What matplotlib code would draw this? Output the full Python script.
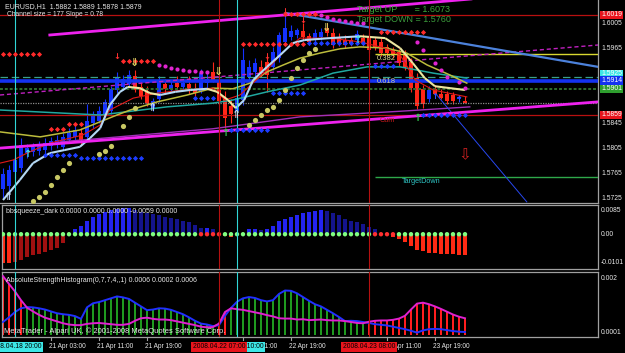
"""
MetaTrader-style EURUSD H1 screen: candles with channel / MA overlays,
bbsqueeze_dark sub-window and AbsoluteStrengthHistogram sub-window.
Writes out.png (625x353).
"""

import numpy as np
import matplotlib
matplotlib.use("Agg")
import matplotlib.pyplot as plt
from matplotlib.collections import LineCollection
from matplotlib.transforms import blended_transform_factory as _blend

plt.rcParams["font.family"] = ["Liberation Sans", "DejaVu Sans"]

FIG_W, FIG_H = 625, 353

# ── price bars (index 0 = first bar on screen, H1) ──────────────────────────
bar_open = [1.5740, 1.5745, 1.5768, 1.5775, 1.5798, 1.5800, 1.5801, 1.5803, 1.5809, 1.5812,
            1.5808, 1.5819, 1.5824, 1.5830, 1.5824, 1.5846, 1.5850, 1.5861, 1.5866, 1.5899,
            1.5904, 1.5909, 1.5921, 1.5904, 1.5896, 1.5871, 1.5885, 1.5909, 1.5901, 1.5910,
            1.5904, 1.5909, 1.5901, 1.5898, 1.5910, 1.5928, 1.5914, 1.5887, 1.5874, 1.5866,
            1.5883, 1.5920, 1.5928, 1.5936, 1.5944, 1.5936, 1.5950, 1.5976, 1.5984, 1.5987,
            1.5993, 1.5985, 1.5979, 1.5984, 1.5998, 1.5990, 1.5982, 1.5979, 1.5979, 1.5979,
            1.5982, 1.5984, 1.5979, 1.5976, 1.5968, 1.5963, 1.5960, 1.5957, 1.5944, 1.5918,
            1.5901, 1.5885, 1.5901, 1.5893, 1.5893, 1.5891, 1.5884, 1.5882]
bar_high = [1.5775, 1.5779, 1.5795, 1.5822, 1.5812, 1.5814, 1.5818, 1.5822, 1.5824, 1.5827,
            1.5830, 1.5838, 1.5843, 1.5838, 1.5877, 1.5866, 1.5874, 1.5885, 1.5906, 1.5928,
            1.5923, 1.5931, 1.5931, 1.5914, 1.5906, 1.5887, 1.5922, 1.5917, 1.5914, 1.5922,
            1.5917, 1.5922, 1.5910, 1.5933, 1.5926, 1.5944, 1.5922, 1.5898, 1.5885, 1.5895,
            1.5966, 1.5947, 1.5950, 1.5947, 1.5955, 1.5968, 1.5992, 1.6019, 1.6003, 1.5999,
            1.6006, 1.5990, 1.5997, 1.5998, 1.6006, 1.5998, 1.5990, 1.5987, 1.5985, 1.5995,
            1.5989, 1.5990, 1.5984, 1.5982, 1.5973, 1.5968, 1.5965, 1.5963, 1.5950, 1.5926,
            1.5907, 1.5906, 1.5907, 1.5901, 1.5898, 1.5896, 1.5891, 1.5889]
bar_low = [1.5724, 1.5724, 1.5759, 1.5768, 1.5790, 1.5794, 1.5795, 1.5798, 1.5803, 1.5806,
           1.5803, 1.5814, 1.5819, 1.5811, 1.5819, 1.5839, 1.5846, 1.5855, 1.5861, 1.5894,
           1.5899, 1.5904, 1.5896, 1.5885, 1.5874, 1.5866, 1.5880, 1.5895, 1.5898, 1.5901,
           1.5901, 1.5893, 1.5890, 1.5895, 1.5903, 1.5912, 1.5877, 1.5839, 1.5847, 1.5850,
           1.5875, 1.5915, 1.5920, 1.5920, 1.5896, 1.5931, 1.5944, 1.5971, 1.5979, 1.5982,
           1.5979, 1.5971, 1.5974, 1.5979, 1.5985, 1.5966, 1.5969, 1.5966, 1.5969, 1.5976,
           1.5969, 1.5958, 1.5963, 1.5953, 1.5953, 1.5950, 1.5937, 1.5931, 1.5896, 1.5869,
           1.5871, 1.5880, 1.5890, 1.5884, 1.5877, 1.5877, 1.5880, 1.5878]
bar_close = [1.5764, 1.5771, 1.5787, 1.5811, 1.5806, 1.5808, 1.5809, 1.5814, 1.5818, 1.5819,
             1.5824, 1.5831, 1.5835, 1.5819, 1.5850, 1.5858, 1.5866, 1.5879, 1.5901, 1.5920,
             1.5917, 1.5923, 1.5899, 1.5890, 1.5879, 1.5882, 1.5914, 1.5901, 1.5907, 1.5904,
             1.5910, 1.5898, 1.5895, 1.5926, 1.5917, 1.5915, 1.5882, 1.5854, 1.5861, 1.5887,
             1.5947, 1.5936, 1.5942, 1.5926, 1.5923, 1.5960, 1.5987, 1.5998, 1.5993, 1.5995,
             1.5984, 1.5976, 1.5990, 1.5992, 1.5990, 1.5971, 1.5974, 1.5971, 1.5973, 1.5989,
             1.5974, 1.5963, 1.5968, 1.5958, 1.5958, 1.5955, 1.5942, 1.5936, 1.5902, 1.5874,
             1.5877, 1.5899, 1.5893, 1.5887, 1.5882, 1.5882, 1.5888, 1.5879]

# ── moving averages (bar position, price) ───────────────────────────────────
fast_ma_x = [0.0, 2.8, 5.0, 7.8, 10.3, 12.8, 14.5, 16.2, 17.8, 19.5, 20.8, 22.8, 24.5, 26.2,
             28.7, 31.2, 34.0, 35.7, 37.5, 38.8, 40.2, 41.7, 44.0, 46.2, 48.3, 50.3, 54.5,
             59.5, 63.7, 66.2, 68.3, 70.3, 72.0, 74.5, 77.0]
fast_ma_y = [1.5723, 1.5755, 1.5782, 1.5798, 1.5803, 1.5808, 1.5822, 1.5838, 1.5875, 1.5896,
             1.5904, 1.5902, 1.5894, 1.5891, 1.5896, 1.5899, 1.5901, 1.5896, 1.5883, 1.5870,
             1.5883, 1.5915, 1.5936, 1.5955, 1.5974, 1.5979, 1.5982, 1.5985, 1.5982, 1.5966,
             1.5942, 1.5918, 1.5905, 1.5902, 1.5899]
slow_ma_x = [-0.5, 6.2, 12.8, 19.0, 21.2, 25.7, 30.7, 35.0, 38.3, 41.2, 44.0, 46.7, 49.5,
             52.8, 56.2, 59.5, 64.0, 67.3, 70.7, 74.5, 77.3]
slow_ma_y = [1.5832, 1.5824, 1.5835, 1.5859, 1.5867, 1.5880, 1.5891, 1.5902, 1.5901, 1.5910,
             1.5928, 1.5939, 1.5950, 1.5958, 1.5965, 1.5968, 1.5966, 1.5958, 1.5939, 1.5923,
             1.5910]
teal_ma_x = [-0.5, 16.2, 27.3, 35.0, 38.3, 44.0, 49.5, 55.0, 60.7, 66.2, 71.7, 77.3]
teal_ma_y = [1.5867, 1.5859, 1.5872, 1.5878, 1.5883, 1.5896, 1.5907, 1.5926, 1.5936, 1.5936,
             1.5926, 1.5918]
red_ma_x = [-0.5, 1.7, 4.0, 7.8, 13.3, 16.2, 17.8, 21.7, 25.7, 30.0, 35.0, 37.0, 39.5, 44.0,
            46.7, 49.5, 54.5, 59.5, 63.7, 66.2, 68.7, 71.7, 77.3]
red_ma_y = [1.5782, 1.5787, 1.5798, 1.5814, 1.5827, 1.5843, 1.5867, 1.5886, 1.5894, 1.5899,
            1.5902, 1.5883, 1.5891, 1.5931, 1.5960, 1.5982, 1.5982, 1.5976, 1.5966, 1.5955,
            1.5915, 1.5899, 1.5888]
purple_x = [9.5, 35.0, 49.5, 66.2, 77.8]
purple_y = [1.5816, 1.5837, 1.5856, 1.5865, 1.5872]

# ── trend lines (two anchors each) ──────────────────────────────────────────
chan_top_x, chan_top_y = [7.8, 99.2], [1.5987, 1.6062]
chan_bot_x, chan_bot_y = [-0.5, 99.2], [1.5806, 1.5880]
mag_dash_x, mag_dash_y = [-0.5, 99.2], [1.5891, 1.5971]
blue_tl_x, blue_tl_y = [47.3, 99.2], [1.6022, 1.5936]
thin_tl_x, thin_tl_y = [72.3, 87.3], [1.5891, 1.5720]

# ── horizontal levels ────────────────────────────────────────────────────────
level_high = 1.6019
level_low = 1.5859
level_blue = 1.5914
level_dash = 1.5920
level_green = 1.5901
level_bid = 1.5879
fib_382 = 1.5957
fib_start = 62
target_down = 1.5760

# ── dot markers (bar, price) ─────────────────────────────────────────────────
red_dot_bar = [0, 1, 2, 3, 4, 5, 6, 8, 9, 10, 11, 12, 13, 20, 21, 22, 23, 24, 25,
               40, 41, 42, 43, 44, 45, 46, 47, 48, 49, 50, 47, 48, 49, 50, 51, 52,
               63, 64, 65, 66, 67, 68, 69, 70]
red_dot_price = [1.5957] * 7 + [1.5837] * 3 + [1.5845] * 3 + [1.5945] * 6 + \
                [1.5973] * 11 + [1.6021] * 6 + [1.5992] * 8
mag_dot_bar = [26, 27, 28, 29, 30, 31, 32, 33, 34, 53, 54, 55, 56, 57, 58, 59, 60,
               69, 70, 72, 73, 74, 76, 77]
mag_dot_price = [1.5939, 1.5937, 1.5934, 1.5933, 1.5931, 1.5929, 1.5929, 1.5928, 1.5928,
                 1.6019, 1.6016, 1.6013, 1.6011, 1.6009, 1.6008, 1.6006, 1.6006,
                 1.5976, 1.5963, 1.5942, 1.5931, 1.5920, 1.5912, 1.5902]
blue_dot_bar = [7, 8, 9, 10, 11, 12, 13, 14, 15, 16, 17, 18, 19, 20, 21, 22, 23,
                32, 33, 34, 35, 38, 39, 40, 41, 42, 43, 44, 45, 46, 47, 48, 49, 50,
                51, 52, 53, 54, 55, 56, 57, 58, 59, 60, 62, 63, 64, 65,
                70, 71, 72, 73, 74, 75, 76, 77]
blue_dot_price = [1.5795] * 6 + [1.5790] * 11 + [1.5886] * 4 + [1.5835] * 7 + \
                 [1.5894] * 6 + [1.5974] * 10 + [1.5937] * 4 + [1.5859] * 8
sar_bar = [5, 6, 7, 8, 9, 10, 11, 16, 17, 18, 20, 21, 22,
           41, 42, 43, 44, 45, 46, 47, 48, 49, 50, 51, 52]
sar_price = [1.5721, 1.5728, 1.5736, 1.5747, 1.5760, 1.5771, 1.5782, 1.5797, 1.5801, 1.5809,
             1.5841, 1.5856, 1.5870, 1.5843, 1.5851, 1.5859, 1.5867, 1.5872, 1.5883, 1.5899,
             1.5918, 1.5934, 1.5947, 1.5958, 1.5965]

# ── signal arrows (bar, price) ───────────────────────────────────────────────
cyan_up_bar, cyan_up_price = [4, 59], [1.5797, 1.5979]
pale_up_bar, pale_up_price = [1, 25, 39], [1.5727, 1.5870, 1.5859]
green_up_bar, green_up_price = [37, 69], [1.5830, 1.5854]
yellow_dn_bar, yellow_dn_price = [22, 36, 54], [1.5942, 1.5928, 1.5998]
red_dn_bar, red_dn_price = [19, 44, 47, 50], [1.5952, 1.5952, 1.6024, 1.6010]
blue_up_bar, blue_up_price = [72, 76], [1.5888, 1.5883]
target_arrow_bar, target_arrow_price = 77, 1.5795

# ── bbsqueeze_dark (x1e-4) ───────────────────────────────────────────────────
squeeze_val = [-101, -101, -98, -90, -80, -74, -68, -61, -55, -47, -30, 0, 17, 28, 48, 62,
               70, 79, 85, 88, 91, 91, 85, 79, 74, 70, 67, 62, 58, 54, 48, 43, 34, 23, 23,
               17, 0, -5, -8, 0, 3, 17, 17, 15, 17, 28, 48, 54, 62, 68, 74, 77, 82, 85, 82,
               74, 68, 54, 48, 43, 36, 26, 20, -2, -3, -11, -18, -27, -41, -54, -60, -65,
               -67, -68, -68, -71, -73, -73]
squeeze_on_bars = [33, 34, 35, 36, 62, 63, 64, 65]

# ── AbsoluteStrengthHistogram (x1e-4) ────────────────────────────────────────
as_bulls = [4.58, 6.25, 8.16, 9.50, 9.94, 9.83, 9.50, 9.05, 8.38, 7.71,
            7.37, 7.15, 6.70, 5.70, 9.83, 11.29, 11.73, 12.40, 13.07, 13.75,
            13.41, 12.85, 11.51, 10.17, 8.83, 9.05, 9.50, 9.39, 8.94, 8.16,
            7.37, 6.25, 5.02, 4.02, 3.68, 3.12, 3.46, 6.81, 9.61, 11.84,
            13.07, 13.52, 13.19, 12.40, 11.96, 12.40, 14.64, 15.87, 15.76, 14.86,
            13.52, 12.18, 10.95, 10.17, 8.94, 7.71, 6.37, 4.91, 5.02, 4.91,
            4.58, 4.24, 3.80, 3.57, 3.35, 2.90, 2.45, 2.01, 1.45, 0.78,
            1.56, 2.01, 2.12, 2.01, 1.67, 1.34, 1.11, 1.00]
as_bears = [21.01, 18.22, 15.53, 12.40, 9.72, 8.38, 7.15, 6.14, 5.47, 4.80,
            4.13, 3.68, 3.46, 3.46, 3.91, 4.13, 4.24, 4.02, 3.80, 3.57,
            3.57, 3.91, 5.02, 5.92, 6.14, 5.70, 5.47, 5.47, 5.25, 4.80,
            4.35, 3.91, 3.46, 2.90, 2.68, 2.79, 4.02, 8.16, 9.50, 9.16,
            8.94, 8.49, 8.04, 7.60, 7.04, 6.59, 5.92, 5.81, 5.81, 5.47,
            5.58, 5.25, 5.36, 5.47, 5.25, 5.14, 5.14, 4.91, 4.58, 4.24,
            4.13, 4.69, 5.02, 5.14, 5.14, 5.36, 5.81, 6.81, 9.05, 11.17,
            11.51, 10.95, 10.17, 9.27, 8.27, 7.26, 6.48, 5.92]

# ── time axis ────────────────────────────────────────────────────────────────
time_tick_bar = [8, 16, 24, 40, 48, 64, 72]
time_tick_label = ["21 Apr 03:00", "21 Apr 11:00", "21 Apr 19:00",
                   "22 Apr 11:00", "22 Apr 19:00", "23 Apr 11:00", "23 Apr 19:00"]
vline_bar = [2, 39, 36, 61]
vline_label = ["2008.04.18 20:00", "2008.04.22 10:00", "2008.04.22 07:00", "2008.04.23 08:00"]
vline_color = ["#30d6d6", "#30d6d6", "#b41010", "#b41010"]
vline_box = ["#3ce6e6", "#3ce6e6", "#e8141c", "#e8141c"]

price_ticks = [1.6005, 1.5965, 1.5845, 1.5805, 1.5765, 1.5725]
price_boxes = [1.6019, 1.5925, 1.5914, 1.5901, 1.5859]
price_box_colors = ["#e8141c", "#3ce6e6", "#1432f0", "#2e9e2e", "#e8141c"]

BULL, BEAR = "#1432ff", "#ff2618"
GRID_GRAY = "#a0a0a0"
TXT = "#e8e8e8"
FS = 5.0


# ── helpers ─────────────────────────────────────────────────────────────────

def _fx(px):
    return px / FIG_W


def _fy(py):
    return 1.0 - py / FIG_H


def _style_panel(ax, xlim, ylim, full_box=True):
    ax.set_facecolor("black")
    ax.set_xlim(*xlim)
    ax.set_ylim(*ylim)
    ax.set_xticks([])
    ax.set_yticks([])
    for side, sp in ax.spines.items():
        sp.set_color(GRID_GRAY)
        sp.set_linewidth(0.9)
        if not full_box and side in ("left", "top"):
            sp.set_visible(False)


def _right_label(ax, y, text, fc=None):
    tr = _blend(ax.transAxes, ax.transData)
    kw = dict(transform=tr, ha="left", va="center", fontsize=4.9, color=TXT, zorder=10)
    if fc is not None:
        kw["bbox"] = dict(boxstyle="square,pad=0.1", fc=fc, ec="none")
        kw["color"] = "white"
    ax.text(1.005, y, text, **kw)


def _glyphs(ax, xs, ys, glyph, color, size):
    for x, y in zip(xs, ys):
        ax.text(x, y, glyph, ha="center", va="center", color=color, fontsize=size,
                fontweight="bold", family=["DejaVu Sans"], zorder=7)


# ── figure layout ────────────────────────────────────────────────────────────
fig = plt.figure(figsize=(FIG_W / 100, FIG_H / 100), dpi=100, facecolor="black")
ax = fig.add_axes([_fx(0), _fy(203), _fx(598), 203 / FIG_H])
ax_sq = fig.add_axes([_fx(2), _fy(269), _fx(596), 64 / FIG_H])
ax_as = fig.add_axes([_fx(2), _fy(337), _fx(596), 65 / FIG_H])

xlim_main = (-0.5, 99.17)
xlim_sub = (-1 / 6, 99.17)
_style_panel(ax, xlim_main, (1.6043 - 0.00016 * 203, 1.6043), full_box=False)
_style_panel(ax_sq, xlim_sub, (-0.01221, 0.01026))
_style_panel(ax_as, xlim_sub, (-0.000079, 0.00225))

idx = np.arange(len(bar_open))
o, h, l, c = (np.asarray(v) for v in (bar_open, bar_high, bar_low, bar_close))

# ── main chart: levels and trend lines ──────────────────────────────────────
ax.axhline(level_high, color="#b81010", lw=0.9, zorder=3)
ax.axhline(level_low, color="#b81010", lw=0.9, zorder=3)
ax.axhline(level_dash, color="#3aa08a", lw=0.9, ls=(0, (6, 3)), zorder=3)
ax.axhline(level_green, color="#2f6e2f", lw=1.4, ls=(0, (1.5, 1)), zorder=3)
ax.axhline(level_bid, color="#8c8c8c", lw=0.9, ls=(0, (1, 1)), zorder=3)
ax.axhline(level_blue, color="#1432f0", lw=2.6, zorder=3)
ax.hlines(fib_382, fib_start, xlim_main[1], color="#d8d830", lw=1.0, zorder=3)
ax.hlines(target_down, fib_start, xlim_main[1], color="#2ea84a", lw=1.0, zorder=3)

ax.plot(mag_dash_x, mag_dash_y, color="#c020c0", lw=1.0, ls=(0, (3, 2)), zorder=3)
ax.plot(chan_top_x, chan_top_y, color="#ee22ee", lw=2.0, zorder=5)
ax.plot(chan_bot_x, chan_bot_y, color="#ee22ee", lw=2.0, zorder=5)
ax.plot(purple_x, purple_y, color="#a030b8", lw=1.0, zorder=4)
ax.plot(blue_tl_x, blue_tl_y, color="#4c82dc", lw=1.6, zorder=4)
ax.plot(thin_tl_x, thin_tl_y, color="#2848f0", lw=0.7, zorder=4)

for b, col in zip(vline_bar, vline_color):
    for a in (ax, ax_sq, ax_as):
        a.axvline(b, color=col, lw=0.8, zorder=6)

# ── candles ──────────────────────────────────────────────────────────────────
cols = np.where(c >= o, BULL, BEAR)
ax.vlines(idx, l, h, colors=cols, lw=0.8, zorder=2)
ax.bar(idx, np.maximum(np.abs(c - o), 0.00008), bottom=np.minimum(o, c), width=0.62,
       color=cols, lw=0, zorder=2)

# ── moving averages ──────────────────────────────────────────────────────────
ax.plot(teal_ma_x, teal_ma_y, color="#20a8a0", lw=1.1, zorder=4)
ax.plot(slow_ma_x, slow_ma_y, color="#bcbc3c", lw=1.1, zorder=4)
ax.plot(red_ma_x, red_ma_y, color="#e01818", lw=0.8, zorder=4)
pts = np.column_stack([fast_ma_x, fast_ma_y])
segs = np.stack([pts[:-1], pts[1:]], axis=1)
seg_cols = np.where(np.diff(fast_ma_y) >= 0, "#b4d8f4", "#ece6a0")
ax.add_collection(LineCollection(segs, colors=seg_cols, linewidths=1.5, zorder=4))

# ── dots ─────────────────────────────────────────────────────────────────────
ax.scatter(red_dot_bar, red_dot_price, marker="D", s=7, color="#ff2a2a", lw=0, zorder=6)
ax.scatter(mag_dot_bar, mag_dot_price, marker="o", s=9, color="#e024d0", lw=0, zorder=6)
ax.scatter(blue_dot_bar, blue_dot_price, marker="D", s=7, color="#1c3cff", lw=0, zorder=6)
ax.scatter(sar_bar, sar_price, marker="o", s=14, color="#c8c864", lw=0, zorder=6)

_glyphs(ax, cyan_up_bar, cyan_up_price, "↑", "#40e8e8", 7)
_glyphs(ax, pale_up_bar, pale_up_price, "⇑", "#c4dcf0", 8)
_glyphs(ax, green_up_bar, green_up_price, "↑", "#30d050", 7)
_glyphs(ax, yellow_dn_bar, yellow_dn_price, "⇓", "#d8d060", 8)
_glyphs(ax, red_dn_bar, red_dn_price, "↓", "#ff3030", 6)
_glyphs(ax, blue_up_bar, blue_up_price, "↑", "#3050ff", 6)
ax.text(target_arrow_bar, target_arrow_price, "⇩", ha="center", va="center",
        color="#d02020", fontsize=11, family=["DejaVu Sans"], zorder=7)

# ── main chart texts ────────────────────────────────────────────────────────
fig.text(_fx(5), _fy(7), "EURUSD,H1  1.5882 1.5889 1.5878 1.5879", color=TXT,
         fontsize=FS, va="center", ha="left")
fig.text(_fx(7), _fy(15), "Channel size = 177 Slope = 0.78", color=TXT,
         fontsize=4.8, va="center", ha="left")
fig.text(_fx(357), _fy(9), "Target UP       = 1.6073", color="#3ca83c",
         fontsize=6.5, va="center", ha="left")
fig.text(_fx(357), _fy(19), "Target DOWN = 1.5760", color="#3c9c3c",
         fontsize=6.5, va="center", ha="left")
ax.text(fib_start + 0.3, 1.5950, "0.382", color="#d8d890", fontsize=5.5, va="center", zorder=8)
ax.text(fib_start + 0.3, 1.5912, "0.618", color="#c8c8a0", fontsize=5.5, va="center", zorder=8)
ax.text(fib_start + 4.5, 1.5752, "TargetDown", color="#30c8c8", fontsize=5.2, va="center")
ax.text(fib_start + 0.8, 1.5851, "Cum", color="#c01818", fontsize=5.2, va="center", zorder=8)

for p in price_ticks:
    _right_label(ax, p, f"{p:.4f}")
for p, fc in zip(price_boxes, price_box_colors):
    _right_label(ax, p, f"{p:.4f}", fc=fc)

# ── bbsqueeze_dark ───────────────────────────────────────────────────────────
sq = np.asarray(squeeze_val) * 1e-4
prev = np.r_[sq[0], sq[:-1]]
sq_cols = []
for v, pv in zip(sq, prev):
    if v >= 0:
        sq_cols.append("#2424f0" if v >= pv else "#14148c")
    else:
        sq_cols.append("#ff2a14" if v <= pv else "#a01010")
ax_sq.bar(idx, sq, width=0.55, color=sq_cols, lw=0, zorder=2)
dot_cols = ["#ff3030" if i in squeeze_on_bars else "#80ff80" for i in idx]
ax_sq.scatter(idx, np.zeros(len(idx)), s=10, color=dot_cols, lw=0, zorder=3)
ax_sq.text(0.006, 0.0079, "bbsqueeze_dark 0.0000 0.0000 0.0000 -0.0059 0.0000",
           transform=_blend(ax_sq.transAxes, ax_sq.transData),
           color=TXT, fontsize=FS, va="center", ha="left", zorder=8)
for v, t in ((0.0085, "0.0085"), (0.0, "0.00"), (-0.0101, "-0.0101")):
    _right_label(ax_sq, v, t)

# ── AbsoluteStrengthHistogram ───────────────────────────────────────────────
bulls = np.asarray(as_bulls) * 1e-4
bears = np.asarray(as_bears) * 1e-4
hist_h = np.maximum(bulls, bears)
hist_c = np.where(bulls >= bears, "#1f9a1f", "#ff1e1e")
ax_as.bar(idx, hist_h, width=0.34, color=hist_c, lw=0, zorder=2)
ax_as.plot(idx, bulls, color="#2030ff", lw=1.4, zorder=3)
ax_as.plot(idx, bears, color="#e020d0", lw=1.4, zorder=3)
ax_as.text(0.006, 0.00195, "AbsoluteStrengthHistogram(0,7,7,4,,1) 0.0006 0.0002 0.0006",
           transform=_blend(ax_as.transAxes, ax_as.transData),
           color=TXT, fontsize=FS, va="center", ha="left", zorder=8)
fig.text(_fx(4), _fy(331), "MetaTrader - Alpari UK, © 2001-2008 MetaQuotes Software Corp.",
         color=TXT, fontsize=5.4, va="center", ha="left")
for v, t in ((0.002, "0.002"), (0.0001, "0.0001")):
    _right_label(ax_as, v, t)

# ── time axis ────────────────────────────────────────────────────────────────
tt = _blend(ax_as.transData, fig.transFigure)
for b, t in zip(time_tick_bar, time_tick_label):
    ax_as.text(b - 0.35, _fy(347), t, transform=tt, color=TXT, fontsize=4.7,
               ha="left", va="center", clip_on=False)
    ax_as.plot([b, b], [_fy(337), _fy(339.5)], transform=tt, color=GRID_GRAY,
               lw=0.8, clip_on=False)
for b, t, fc in zip(vline_bar, vline_label, vline_box):
    ax_as.text(b, _fy(347), t, transform=tt, color="black", fontsize=4.9,
               ha="center", va="center", clip_on=False, zorder=9,
               bbox=dict(boxstyle="square,pad=0.25", fc=fc, ec="none"))

fig.savefig("out.png", dpi=100, facecolor="black")
plt.close(fig)
